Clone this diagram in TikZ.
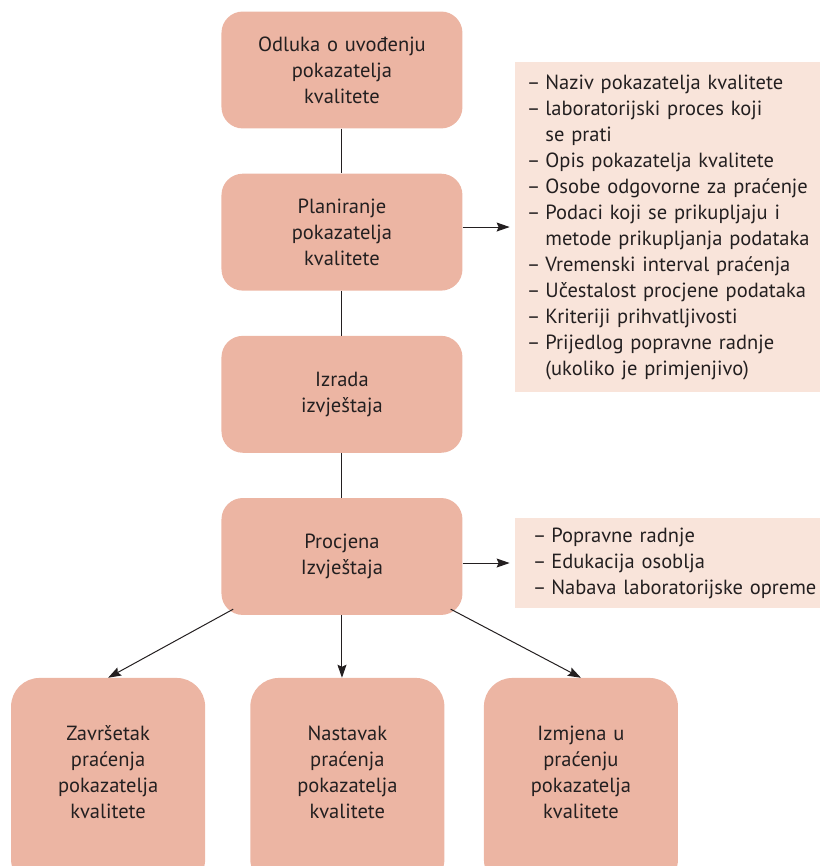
\documentclass[tikz,border=0pt]{standalone}
\usepackage{fontspec}
\setmainfont{PT Sans}
\usepackage{xcolor}
\usetikzlibrary{arrows.meta, positioning}

\definecolor{salmon}{HTML}{ECB5A3}
\definecolor{blush}{HTML}{F9E4DA}
\definecolor{ink}{HTML}{231F20}
\newcommand{\bul}{–\hspace{5pt}}

\begin{document}
\begin{tikzpicture}[
    node distance=5.7cm,
    font=\fontsize{20.5}{26}\selectfont,
    text=ink,
    block/.style={rectangle, fill=salmon, text width=8.47cm, text centered, rounded corners=0.75cm, minimum height=4.11cm, inner sep=0pt},
    outcome/.style={rectangle, fill=salmon, text width=6.82cm, text centered, rounded corners=1cm, minimum height=7.38cm, inner sep=0pt, text depth=3.5cm},
    note/.style={rectangle, fill=blush, text width=11cm, align=left, inner xsep=0.42cm, inner ysep=0pt},
    line/.style={draw=ink, line width=1pt},
    arrow/.style={draw=ink, line width=1pt, -{Stealth[length=13pt, width=9pt, inset=2pt]}}
]
    \useasboundingbox (0,0) rectangle (28.82,-30.44);

    \node (odl) [block] at (12.02,-2.46) {Odluka o uvođenju\\pokazatelja\\kvalitete};
    \node (plan) [block, below of=odl] {Planiranje\\pokazatelja\\kvalitete};
    \node (izr) [block, below of=plan] {Izrada\\izvještaja};
    \node (proc) [block, below of=izr] {Procjena\\Izvještaja};
    \node (info) [note, right of=plan, xshift=6.3cm, yshift=0.18cm, minimum height=11.6cm] {%
        \bul Naziv pokazatelja kvalitete\\
        \bul laboratorijski proces koji\\
        \hphantom{\bul}se prati\\
        \bul Opis pokazatelja kvalitete\\
        \bul Osobe odgovorne za praćenje\\
        \bul Podaci koji se prikupljaju i\\
        \hphantom{\bul}metode prikupljanja podataka\\
        \bul Vremenski interval praćenja\\
        \bul Učestalost procjene podataka\\
        \bul Kriteriji prihvatljivosti\\
        \bul Prijedlog popravne radnje\\
        \hphantom{\bul}(ukoliko je primjenjivo)};
    \node (mjere) [note, right of=proc, xshift=6.31cm, yshift=-0.23cm, minimum height=3.16cm, inner xsep=0.63cm, text width=10.6cm] {%
        \bul Popravne radnje\\
        \bul Edukacija osoblja\\
        \bul Nabava laboratorijske opreme};
    \node (cont) [outcome, below of=proc, xshift=0.19cm, yshift=-2.26cm] {Nastavak\\praćenja\\pokazatelja\\kvalitete};
    \node (stop) [outcome, left of=cont, xshift=-2.71cm] {Završetak\\praćenja\\pokazatelja\\kvalitete};
    \node (chg) [outcome, right of=cont, xshift=2.51cm] {Izmjena u\\praćenju\\pokazatelja\\kvalitete};

    \draw [line] (odl) -- (plan);
    \draw [line] (plan) -- (izr);
    \draw [line] (izr) -- (proc);
    \draw [arrow, shorten >=0.18cm] (plan.east |- info.west) -- (info.west);
    \draw [arrow, shorten >=0.18cm] (proc.east |- mjere.west) -- (mjere.west);
    \draw [arrow] ([xshift=0.42cm, yshift=0.21cm]proc.south west) -- (stop.north);
    \draw [arrow] (proc.south) -- (proc.south |- cont.north);
    \draw [arrow] ([xshift=-0.42cm, yshift=0.21cm]proc.south east) -- (chg.north);
\end{tikzpicture}
\end{document}
